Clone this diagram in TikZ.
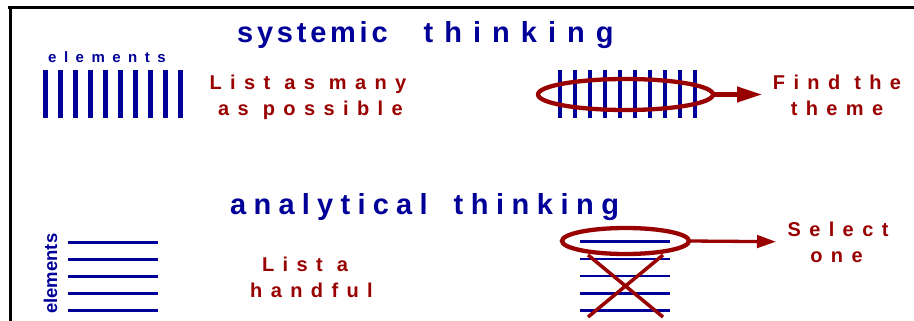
\documentclass[tikz,border=0pt]{standalone}
\usepackage{fontspec}
\setmainfont{Liberation Sans}
\usetikzlibrary{arrows.meta,shapes.geometric}
\definecolor{navyb}{RGB}{0,0,153}
\definecolor{darkr}{RGB}{153,0,0}
\newcommand{\spc}[2]{{\addfontfeature{LetterSpace=#1}#2}}
\tikzset{
  title/.style={anchor=base west,inner sep=0pt,text=navyb,font=\fontsize{29}{34}\selectfont\bfseries},
  redtxt/.style={anchor=base,inner sep=0pt,text=darkr,font=\fontsize{20}{24}\selectfont\bfseries\addfontfeature{LetterSpace=42}},
  eltxt/.style={inner sep=0pt,text=navyb,font=\bfseries},
  vbar/.style={navyb,line width=5pt},
  vbarthin/.style={navyb,line width=3.5pt},
  hbar/.style={navyb,line width=2.8pt},
  ring/.style={draw=darkr,ellipse,line width=4.3pt,inner sep=0pt,outer sep=0pt},
  redarrow/.style={darkr,line width=4.3pt},
  frame/.style={black,line width=3pt}
}
\begin{document}
\begin{tikzpicture}[x=1pt,y=-1pt]
\useasboundingbox (0,0) rectangle (914,321);
% frame
\draw[frame] (8,7.5) -- (914,7.5);
\draw[frame] (10,6) -- (10,321);
% titles
\node[title] (t1) at (237,43) {\spc{13}{systemic}\hspace{36pt}\spc{38}{thinking}};
\node[title] (t2) at (230,214) {\spc{25}{analytical}\hspace{26pt}\spc{26}{thinking}};
% systemic: elements
\node[eltxt,anchor=base west,font=\fontsize{15}{18}\selectfont\bfseries\addfontfeature{LetterSpace=50}] (el1) at (48,62.7) {elements};
\foreach \i in {0,...,9} \draw[vbar] (45.5+15*\i,70) -- (45.5+15*\i,118);
\node[redtxt] (r1a) at (308,90) {List as many};
\node[redtxt] (r1b) at (310.5,116) {as possible};
% systemic: right
\foreach \i in {0,...,9} \draw[vbarthin] (560+15*\i,70) -- (560+15*\i,118);
\node[ring,minimum width=175pt,minimum height=31pt] (e1) at (625.5,94.5) {};
\coordinate (a1) at (762,94.5);
\draw[redarrow,-{Triangle[length=25pt,width=15pt]}] (e1.east) -- (a1);
\node[redtxt] (r2a) at (837,89) {Find the};
\node[redtxt] (r2b) at (837,116) {theme};
% analytical: left
\node[eltxt,anchor=base west,rotate=90,font=\fontsize{18.5}{22}\selectfont\bfseries] (el2) at (57,314) {elements};
\foreach \i in {0,...,4} \draw[hbar] (68,242.3+17*\i) -- (158,242.3+17*\i);
\node[redtxt] (r3a) at (305,271.7) {List a};
\node[redtxt] (r3b) at (311.5,297.7) {handful};
% analytical: right
\foreach \i in {0,...,4} \draw[hbar,line width=2.6pt] (580,241.7+17.2*\i) -- (670,241.7+17.2*\i);
\coordinate (x1) at (588,255);
\coordinate (x2) at (663,317);
\coordinate (x3) at (663,255);
\coordinate (x4) at (588,317);
\draw[darkr,line width=3.5pt] (x1) -- (x2);
\draw[darkr,line width=3.5pt] (x3) -- (x4);
\node[ring,minimum width=127pt,minimum height=26pt] (e2) at (625.5,241) {};
\coordinate (a2) at (776,241.7);
\draw[redarrow,line width=3.3pt,-{Triangle[length=19pt,width=12.5pt]}] (e2.east) -- (a2);
\node[redtxt] (r4a) at (838,236) {Select};
\node[redtxt] (r4b) at (836.5,262.7) {one};
\end{tikzpicture}
\end{document}
